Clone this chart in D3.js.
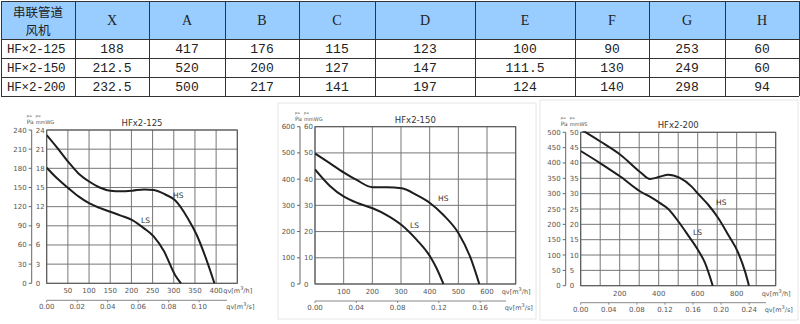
<!DOCTYPE html>
<html><head><meta charset="utf-8">
<script src="https://cdn.jsdelivr.net/npm/d3@7"></script>
<style>body{margin:0;background:#fff}svg{display:block}</style>
</head><body>
<svg id="c" width="800" height="324"></svg>
<script>
// ---------- DATA ----------
const headerTitle = ["串联管道", "风机"];
const dimNames = ["X","A","B","C","D","E","F","G","H"];
const models = ["HF×2-125","HF×2-150","HF×2-200"];
const dims125 = ["188","417","176","115","123","100","90","253","60"];
const dims150 = ["212.5","520","200","127","147","111.5","130","249","60"];
const dims200 = ["232.5","500","217","141","197","124","140","298","94"];

const chartTitles = ["HFx2-125","HFx2-150","HFx2-200"];
const unitLabels = ["mmWG","mmWG","mmWS"];
// curves: [qv m3/h, pressure Pa]
const hs125 = [[0,232],[25,212],[51,190],[75,172],[101,159],[125,150],[150,145],[175,144],[202,145],[230,147],[253,146],[280,139],[303,130],[333,102],[354,76],[376,39],[396,0]];
const ls125 = [[0,181],[25,164],[51,149],[75,136],[101,125],[125,118],[150,112],[175,106],[202,99],[230,86],[253,73],[277,50],[303,13],[317,0]];
const hs150 = [[0,498],[50,462],[101,425],[145,397],[201,369],[250,369],[302,365],[355,339],[402,308],[448,263],[501,193],[541,104],[573,0]];
const ls150 = [[0,437],[52,374],[101,333],[150,308],[201,289],[250,263],[302,225],[355,168],[402,104],[424,60],[448,0]];
const hs200 = [[0,510],[101,470],[205,426],[306,370],[355,348],[405,355],[449,362],[506,352],[569,323],[607,296],[655,263],[706,220],[757,165],[805,111],[843,46],[863,0]];
const ls200 = [[0,439],[101,399],[205,355],[306,307],[355,290],[405,270],[449,250],[500,210],[550,165],[600,118],[637,75],[677,0]];

const xTicks125 = [50,100,150,200,250,300,350,400];
const xTicks150 = [100,200,300,400,500,600];
const xTicks200 = [200,400,600,800];
const sTicks125 = [0,0.02,0.04,0.06,0.08,0.10];
const sTicks150 = [0,0.04,0.08,0.12,0.16];
const sTicks200 = [0,0.04,0.08,0.12,0.16,0.20,0.24];

// ---------- TABLE ----------
const svg = d3.select("#c");
const colEdges = [1,75,149,225,299,375,475,575,649,725,799];
const rowEdges = [1,39,58,77,96];
const rows = [dims125, dims150, dims200];
const mono = "'Liberation Mono','DejaVu Sans Mono',monospace";
const serif = "'Liberation Serif','DejaVu Serif',serif";

const tbl = svg.append("g");
tbl.append("rect").attr("x",colEdges[0]).attr("y",rowEdges[0])
  .attr("width",colEdges[10]-colEdges[0]).attr("height",rowEdges[1]-rowEdges[0])
  .attr("fill","#99ccff");
colEdges.forEach(x=>tbl.append("line").attr("x1",x+0.5).attr("x2",x+0.5)
  .attr("y1",rowEdges[0]).attr("y2",rowEdges[4]).attr("stroke","#333").attr("stroke-width",1));
rowEdges.forEach(y=>tbl.append("line").attr("y1",y+0.5).attr("y2",y+0.5)
  .attr("x1",colEdges[0]).attr("x2",colEdges[10]).attr("stroke","#333").attr("stroke-width",1));

const ht = tbl.append("text").attr("text-anchor","middle").attr("font-family","'Noto Sans CJK SC'")
  .attr("font-size",12.5).attr("fill","#222");
headerTitle.forEach((d,i)=>ht.append("tspan").attr("x",(colEdges[0]+colEdges[1])/2).attr("y",16.5+i*18.5).text(d));
tbl.selectAll("text.hd").data(dimNames).join("text")
  .attr("x",(d,i)=>(colEdges[i+1]+colEdges[i+2])/2).attr("y",25)
  .attr("text-anchor","middle").attr("font-family",serif).attr("font-size",14).attr("fill","#222").text(d=>d);
models.forEach((m,r)=>{
  const yc = (rowEdges[r+1]+rowEdges[r+2])/2 + 4.5;
  tbl.append("text").attr("x",7).attr("y",yc).attr("font-family",mono)
    .attr("font-size",12.5).attr("fill","#222").attr("letter-spacing",-0.2).text(m);
  tbl.selectAll(null).data(rows[r]).join("text")
    .attr("x",(d,i)=>(colEdges[i+1]+colEdges[i+2])/2).attr("y",yc)
    .attr("text-anchor","middle").attr("font-family",mono).attr("font-size",13).attr("fill","#222").text(d=>d);
});

// ---------- CHARTS ----------
const charts = [
  {title:chartTitles[0], unit:unitLabels[0], hs:hs125, ls:ls125, xt:xTicks125, st:sTicks125,
   L:46.7,T:130,R:237.3,B:283.3, xMax:450, nx:9, yMax:240, yStep:30, mmDiv:10,
   hsLab:[173,198], lsLab:[141,223], frame:null, sLabEnd:237},
  {title:chartTitles[1], unit:unitLabels[1], hs:hs150, ls:ls150, xt:xTicks150, st:sTicks150,
   L:315,T:126.7,R:515.7,B:284, xMax:700, nx:7, yMax:600, yStep:100, mmDiv:10,
   hsLab:[438,201], lsLab:[410,228], frame:[278,103,258,216], sLabEnd:516},
  {title:chartTitles[2], unit:unitLabels[2], hs:hs200, ls:ls200, xt:xTicks200, st:sTicks200,
   L:580.7,T:132.3,R:775.7,B:285.7, xMax:1000, nx:10, yMax:500, yStep:50, mmDiv:10,
   hsLab:[716,205], lsLab:[693,235], frame:[540,100,258,220], sLabEnd:776}
];
const sans = "'DejaVu Sans','Noto Sans',sans-serif";
const txtCol = "#555";

charts.forEach(c=>{
  const g = svg.append("g");
  if (c.frame) g.append("rect").attr("x",c.frame[0]).attr("y",c.frame[1]).attr("width",c.frame[2]).attr("height",c.frame[3])
    .attr("fill","none").attr("stroke","#e6e6e6");
  const x = d3.scaleLinear().domain([0,c.xMax]).range([c.L,c.R]);
  const y = d3.scaleLinear().domain([0,c.yMax]).range([c.B,c.T]);
  const xs = d3.scaleLinear().domain([0,c.xMax/3600]).range([c.L,c.R]);
  // grid
  const gx = d3.range(0,c.nx+1).map(i=>i*c.xMax/c.nx);
  gx.forEach(v=>g.append("line").attr("x1",x(v)).attr("x2",x(v)).attr("y1",c.T).attr("y2",c.B)
    .attr("stroke","#777").attr("stroke-width",1));
  const gy = d3.range(0,c.yMax+1e-6,c.yStep);
  gy.forEach(v=>g.append("line").attr("y1",y(v)).attr("y2",y(v)).attr("x1",c.L).attr("x2",c.R)
    .attr("stroke","#777").attr("stroke-width",1));
  g.append("rect").attr("x",c.L).attr("y",c.T).attr("width",c.R-c.L).attr("height",c.B-c.T)
    .attr("fill","none").attr("stroke","#555").attr("stroke-width",1);
  // Pa axis
  const ax = c.L-15;
  g.append("line").attr("x1",ax).attr("x2",ax).attr("y1",c.T).attr("y2",c.B).attr("stroke","#666");
  gy.forEach(v=>{
    g.append("line").attr("x1",ax-3).attr("x2",ax).attr("y1",y(v)).attr("y2",y(v)).attr("stroke","#666");
    g.append("text").attr("x",ax-5).attr("y",y(v)+2.5).attr("text-anchor","end")
      .attr("font-family",sans).attr("font-size",7).attr("fill",txtCol).text(v);
    g.append("text").attr("x",ax+4).attr("y",y(v)+2.5)
      .attr("font-family",sans).attr("font-size",7).attr("fill",txtCol).text(v/c.mmDiv);
  });
  // unit labels
  g.append("text").attr("x",ax-5).attr("y",c.T-13).attr("font-family",sans).attr("font-size",3.5).attr("fill",txtCol).text("p=");
  g.append("text").attr("x",ax-5).attr("y",c.T-6).attr("font-family",sans).attr("font-size",6).attr("fill",txtCol).text("Pa");
  g.append("text").attr("x",ax+4).attr("y",c.T-13).attr("font-family",sans).attr("font-size",3.5).attr("fill",txtCol).text("p=");
  g.append("text").attr("x",ax+4).attr("y",c.T-6).attr("font-family",sans).attr("font-size",5).attr("fill",txtCol).text(c.unit);
  // title
  g.append("text").attr("x",(c.L+c.R)/2).attr("y",c.T-4).attr("text-anchor","middle")
    .attr("font-family",sans).attr("font-size",8.5).attr("fill","#333").text(c.title);
  // bottom axis m3/h
  c.xt.forEach(v=>g.append("text").attr("x",x(v)).attr("y",c.B+10).attr("text-anchor","middle")
    .attr("font-family",sans).attr("font-size",7).attr("fill",txtCol).text(v));
  const l1 = g.append("text").attr("x",c.R-14).attr("y",c.B+10)
    .attr("font-family",sans).attr("font-size",6.5).attr("fill",txtCol);
  l1.append("tspan").text("qv[m");
  l1.append("tspan").attr("dy",-3).attr("font-size",5).text("3");
  l1.append("tspan").attr("dy",3).text("/h]");
  // bottom axis m3/s
  const sy = c.B+17;
  g.append("line").attr("x1",c.L).attr("x2",c.sLabEnd-10).attr("y1",sy).attr("y2",sy).attr("stroke","#888");
  c.st.forEach(v=>{
    g.append("line").attr("x1",xs(v)).attr("x2",xs(v)).attr("y1",sy).attr("y2",sy+2).attr("stroke","#888");
    g.append("text").attr("x",xs(v)).attr("y",sy+9).attr("text-anchor","middle")
      .attr("font-family",sans).attr("font-size",7).attr("fill",txtCol).text(v.toFixed(2));
  });
  const l2 = g.append("text").attr("x",c.R-11).attr("y",sy+9)
    .attr("font-family",sans).attr("font-size",6.5).attr("fill",txtCol);
  l2.append("tspan").text("qv[m");
  l2.append("tspan").attr("dy",-3).attr("font-size",5).text("3");
  l2.append("tspan").attr("dy",3).text("/s]");
  // curves
  const clipId = "clip"+c.title.replace(/\W/g,"");
  svg.append("clipPath").attr("id",clipId).append("rect").attr("x",c.L).attr("y",c.T-1).attr("width",c.R-c.L).attr("height",c.B-c.T+2);
  const line = d3.line().x(d=>x(d[0])).y(d=>y(d[1])).curve(d3.curveMonotoneX);
  [c.hs,c.ls].forEach(s=>g.append("path").attr("d",line(s)).attr("clip-path",`url(#${clipId})`)
    .attr("fill","none").attr("stroke","#1e1e1e").attr("stroke-width",2));
  g.append("text").attr("x",c.hsLab[0]).attr("y",c.hsLab[1]).attr("font-family",sans).attr("font-size",7.5).attr("fill","#333").text("HS");
  g.append("text").attr("x",c.lsLab[0]).attr("y",c.lsLab[1]).attr("font-family",sans).attr("font-size",7.5).attr("fill","#333").text("LS");
});
</script>
</body></html>
